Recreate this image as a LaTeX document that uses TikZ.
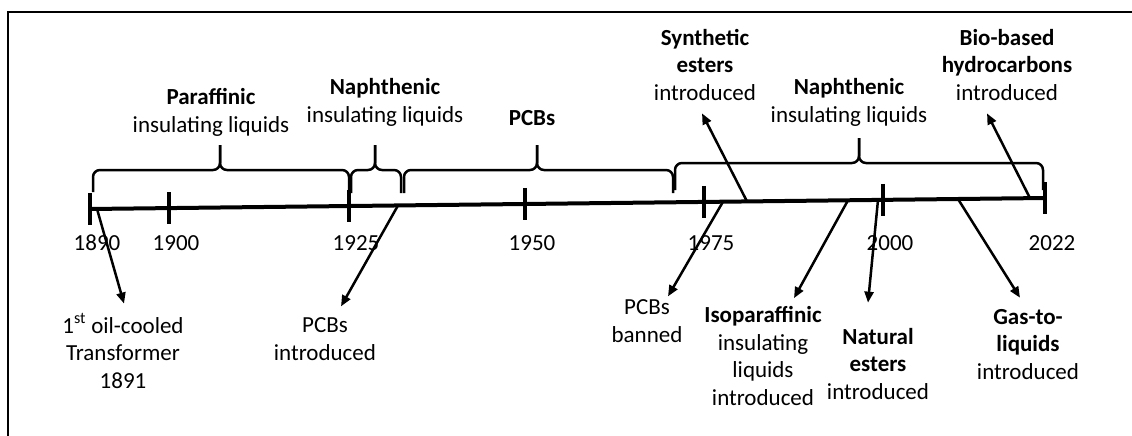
\documentclass[tikz,border=0pt]{standalone}
\usepackage{fontspec}
\setmainfont{Carlito}
\usetikzlibrary{arrows.meta}

\begin{document}
\begin{tikzpicture}[x=1pt, y=-1pt,
    every node/.style={font=\fontsize{23}{27.5}\selectfont, align=center, inner sep=0pt},
    note/.style={anchor=base},
    timeline/.style={line width=4pt},
    yeartick/.style={line width=4.5pt},
    timebrace/.style={line width=2.5pt, rounded corners=7pt},
    pointer/.style={line width=2.5pt, -{Triangle[length=11pt, width=9pt]}},
    edgeline/.style={line width=2pt}]
        \useasboundingbox (0,0) rectangle (1132,436);
        % frame (left and top only)
        \draw[edgeline] (8,436) -- (8,12) -- (1132,12);
        % the time axis, slightly rising to the right
        \coordinate (start) at (90,209);
        \coordinate (end) at (1045,198);
        \draw[timeline] (start) -- (end);
        % year ticks and labels
        \foreach \yr/\x in {1890/90, 1900/169, 1925/349, 1950/525, 1975/704, 2000/883, 2022/1045} {
          \coordinate (t\yr) at (\x, {209-11*(\x-90)/955});
          \draw[yeartick] ([yshift=16pt]t\yr) -- ([yshift=-16pt]t\yr);
          \node (y\yr) at (\x+7, 243) {\yr};
        }
        % braces: left end, tip, right end, foot, top
        \foreach \xa/\xm/\xb/\yb/\yt in {93/220/349/192/170, 351/375/401/193/170,
                                          404/537/673/193/170, 675/859/1043/190/163} {
          \draw[timebrace] (\xa,\yb) |- (\xm,\yt) -- (\xm,\yt-25);
          \draw[timebrace] (\xb,\yb) |- (\xm,\yt) -- (\xm,\yt-25);
        }
        % periods above the braces (placed at the baseline of the last line)
        \node[note] (parA) at (211,132) {\textbf{Paraffinic}\\insulating liquids};
        \node[note] (naphA) at (385,122) {\textbf{Naphthenic}\\insulating liquids};
        \node[note] (pcbs) at (532,125) {\textbf{PCBs}};
        \node[note] (naphB) at (849,122) {\textbf{Naphthenic}\\insulating liquids};
        % events above the axis
        \node[note] (synth) at (705,100) {\textbf{Synthetic}\\\textbf{esters}\\introduced};
        \node[note] (bio) at (1007,100) {\textbf{Bio-based}\\\textbf{hydrocarbons}\\introduced};
        % events below the axis
        \node[note] (oil) at (123,388) {1\textsuperscript{st} oil-cooled\\Transformer\\1891};
        \node[note] (intro) at (325,360) {PCBs\\introduced};
        \node[note] (banned) at (647,342) {PCBs\\banned};
        \node[note] (iso) at (763,405) {\textbf{Isoparaffinic}\\insulating\\liquids\\introduced};
        \node[note] (natural) at (878,399) {\textbf{Natural}\\\textbf{esters}\\introduced};
        \node[note] (gas) at (1028,379) {\textbf{Gas-to-}\\\textbf{liquids}\\introduced};
        % where the pointers leave the axis
        \foreach \ev/\x in {oil/97, intro/398, banned/723, synth/747, iso/848, natural/878, gas/958, bio/1030}
          \coordinate (p\ev) at (\x, {209-11*(\x-90)/955});
        \draw[pointer] (poil) -- ([xshift=1pt, yshift=10pt]oil.north);
        \draw[pointer] (pintro) -- ([xshift=16pt, yshift=11pt]intro.north);
        \draw[pointer] (pbanned) -- ([xshift=21pt, yshift=3pt]banned.north);
        \draw[pointer] (psynth) -- ([xshift=-3pt, yshift=-13pt]synth.south);
        \draw[pointer] (piso) -- ([xshift=31pt, yshift=8pt]iso.north);
        \draw[pointer] (pnatural) -- ([xshift=-10pt, yshift=25pt]natural.north);
        \draw[pointer] (pgas) -- ([xshift=-8pt, yshift=11pt]gas.north);
        \draw[pointer] (pbio) -- ([xshift=-20pt, yshift=-13pt]bio.south);
      \end{tikzpicture}
\end{document}
